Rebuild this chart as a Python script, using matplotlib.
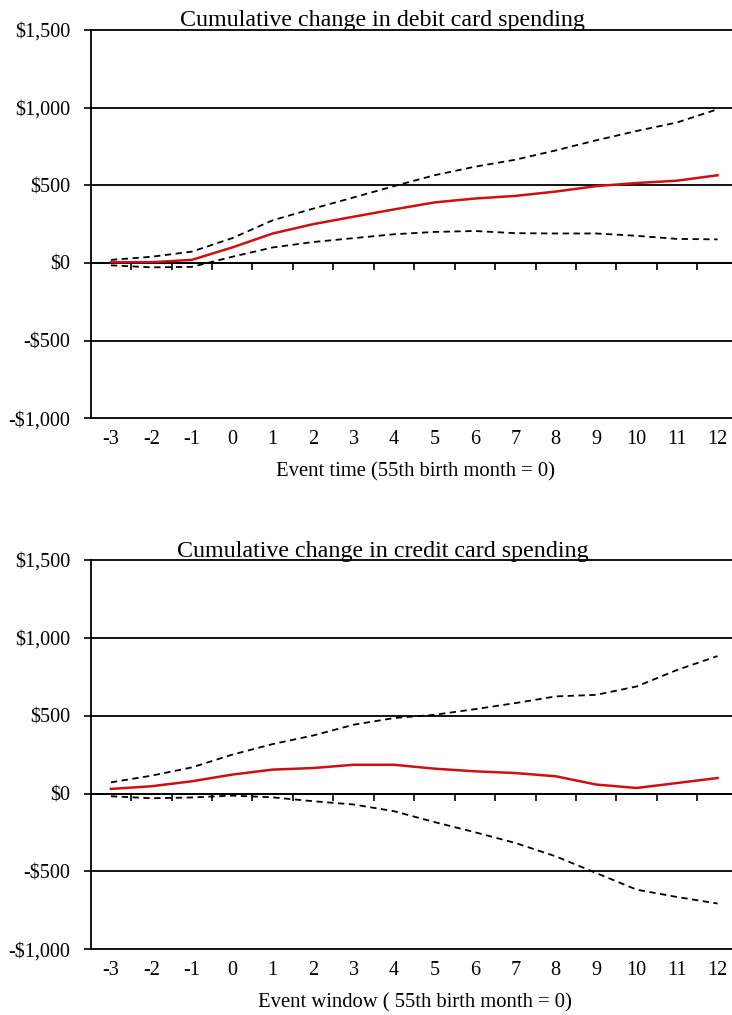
import numpy as np
import matplotlib.pyplot as plt
from matplotlib.ticker import FuncFormatter, FixedLocator

plt.rcParams['font.family'] = ['Liberation Serif', 'DejaVu Serif']

# event months
months = list(range(-3, 13))

# debit card: point estimate and confidence bands
debit_mean = [5, 5, 20, 100, 190, 250, 298, 345, 390, 415, 432, 460, 495, 515, 530, 565]
debit_upper = [20, 40, 73, 160, 275, 350, 422, 495, 565, 620, 665, 725, 790, 850, 905, 990]
debit_lower = [-15, -28, -25, 40, 100, 135, 160, 185, 200, 206, 192, 190, 190, 175, 155, 152]

# credit card: point estimate and confidence bands
credit_mean = [30, 47, 79, 122, 154, 164, 185, 185, 160, 143, 132, 111, 58, 36, 68, 100]
credit_upper = [72, 115, 168, 250, 318, 373, 442, 485, 506, 542, 581, 624, 634, 688, 794, 883]
credit_lower = [-17, -30, -25, -13, -24, -49, -70, -113, -183, -248, -317, -403, -510, -617, -664, -706]

yticks = [-1000, -500, 0, 500, 1000, 1500]

panels = [
    dict(title='Cumulative change in debit card spending',
         xlabel='Event time (55th birth month = 0)',
         mean=debit_mean, upper=debit_upper, lower=debit_lower,
         rect=[0.1239, 0.5879, 0.884, 0.3825], title_y=0.9744, xlabel_y=0.5303),
    dict(title='Cumulative change in credit card spending',
         xlabel='Event window ( 55th birth month = 0)',
         mean=credit_mean, upper=credit_upper, lower=credit_lower,
         rect=[0.1239, 0.0647, 0.884, 0.3836], title_y=0.4517, xlabel_y=0.0075),
]


def dollar(v, pos):
    v = int(round(v))
    s = '${:,}'.format(abs(v))
    return '-' + s if v < 0 else s


fig = plt.figure(figsize=(7.32, 10.15), dpi=100)

for p in panels:
    ax = fig.add_axes(p['rect'])
    ax.set_xlim(-3.5, 12.5)
    ax.set_ylim(-1000, 1500)

    # grid lines at every 500
    for v in yticks:
        ax.axhline(v, color='black', lw=1.3, zorder=1, clip_on=False)

    ax.plot(months, p['upper'], color='black', lw=1.3, dashes=(3.5, 2.5), zorder=3)
    ax.plot(months, p['lower'], color='black', lw=1.3, dashes=(3.5, 2.5), zorder=3)
    ax.plot(months, p['mean'], color='#cc1111', lw=1.8, zorder=4)

    ax.set_yticks(yticks)
    ax.yaxis.set_major_formatter(FuncFormatter(dollar))
    ax.tick_params(axis='y', direction='out', length=5, width=1.2, pad=9.5,
                   labelsize=14.6, colors='black')

    # category axis crossing at zero, ticks between categories
    for s in ['top', 'right']:
        ax.spines[s].set_visible(False)
    ax.spines['left'].set_linewidth(1.3)
    ax.spines['bottom'].set_position(('data', 0))
    ax.spines['bottom'].set_linewidth(1.3)
    ax.xaxis.set_major_locator(FixedLocator(np.arange(-2.5, 12.5, 1.0)))
    ax.tick_params(axis='x', direction='out', length=5, width=1.2, labelbottom=False)

    sec = ax.secondary_xaxis(0)
    sec.set_xticks(months)
    sec.set_xticklabels([str(m) for m in months])
    sec.tick_params(axis='x', length=0, pad=8.5, labelsize=14.6)
    sec.spines['bottom'].set_visible(False)

    fig.text(0.523, p['title_y'], p['title'], ha='center', va='baseline', fontsize=17.3)
    fig.text(0.567, p['xlabel_y'], p['xlabel'], ha='center', va='baseline', fontsize=14.9)

fig.savefig('out.png', dpi=100)
